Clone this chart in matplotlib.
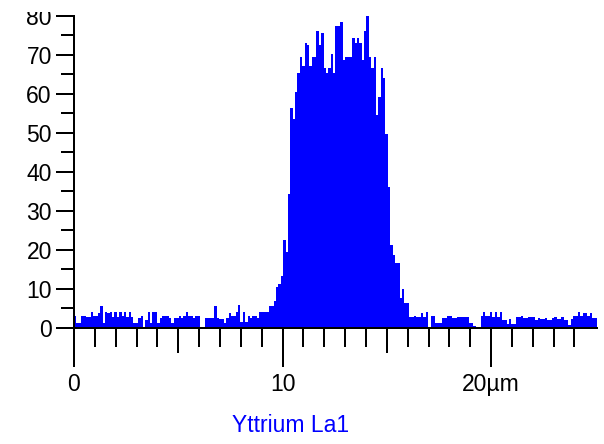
import numpy as np
import matplotlib.pyplot as plt
from matplotlib.ticker import MultipleLocator, FixedLocator
from matplotlib.transforms import Bbox, TransformedBbox

plt.rcParams['font.family'] = ['Liberation Sans', 'DejaVu Sans']

# line scan, one value per point, spacing in um
step = 0.114
counts = [
    3.0, 1.2, 1.2, 3.0, 3.0, 2.6, 2.6, 4.1, 3.0, 3.0,
    3.6, 5.4, 1.2, 4.1, 3.6, 4.1, 2.8, 4.1, 2.8, 4.1,
    3.0, 4.1, 2.8, 4.1, 2.8, 1.2, 1.2, 2.4, 3.0, 0.0,
    1.9, 4.1, 1.2, 4.1, 4.1, 1.2, 2.4, 3.0, 3.0, 3.0,
    2.4, 1.2, 2.4, 2.4, 3.0, 2.4, 3.0, 4.1, 3.0, 3.0,
    2.4, 3.0, 3.0, 0.0, 0.0, 2.4, 2.4, 2.4, 2.4, 5.4,
    2.4, 2.1, 2.1, 1.2, 2.4, 3.6, 3.0, 3.0, 4.1, 5.8,
    1.5, 4.1, 1.5, 3.0, 2.4, 3.0, 3.0, 2.4, 4.1, 4.1,
    4.1,
    4.0, 5.4, 5.4, 6.9, 10.3, 11.3, 13.1, 22.4, 19.3, 34.4,
    56.3, 53.5, 60.4, 65.3, 69.4, 67.1, 73.0, 72.5, 67.1, 69.4,
    69.4, 76.1, 72.5, 75.6, 66.6, 65.3, 66.6, 70.2, 65.3, 77.4,
    77.4, 78.4, 68.6,
    69.4, 69.4, 69.4, 74.3, 73.0, 74.3, 73.0, 68.6, 76.1, 80.2,
    69.4, 66.6, 69.4, 54.5, 59.1, 66.6, 64.0, 49.6, 36.0, 21.1,
    18.5, 16.5, 16.5, 7.7, 10.0, 6.2, 6.2, 2.6,
    2.8, 3.0, 2.8, 2.8, 3.6, 2.8, 4.1, 0.0, 3.0, 3.0,
    1.2, 1.2, 1.2, 2.4, 2.4, 3.0, 3.0, 2.4, 2.4, 2.6,
    2.6, 2.6, 2.6, 2.6, 1.2, 1.2, 0.4, 0.0, 0.0, 3.0,
    4.1, 3.0, 3.0, 4.1, 2.6, 4.1, 2.6, 4.1, 1.9, 1.9,
    1.0, 2.1, 1.0, 1.0, 2.6, 2.6, 3.0, 2.4, 2.4, 2.6,
    2.6, 2.6, 1.8, 2.4, 2.1, 2.1, 2.4, 1.8, 1.8, 2.4,
    2.6, 2.1, 2.1, 2.6, 1.8, 1.8, 0.6, 2.1, 3.0, 3.0,
    4.1, 3.0, 3.6, 3.6, 3.0, 3.6, 2.4, 2.4,
]
edges = np.arange(len(counts) + 1) * step
heights = counts + [counts[-1]]

x_major = [0, 10, 20]
x_labels = ['0', '10', '20µm']
x_mid = [5, 15]
y_major = list(range(0, 81, 10))

fig = plt.figure(figsize=(6.04, 4.44), dpi=100)
ax = fig.add_axes([74 / 604, 116.5 / 444, 523 / 604, 311.5 / 444])

ax.fill_between(edges, 0, heights, step='post', color='#0000ff',
                linewidth=0, antialiased=False, zorder=1)

ax.set_xlim(0, edges[-1])
ax.set_ylim(0, 80)

for s in ['top', 'right']:
    ax.spines[s].set_visible(False)
for s in ['left', 'bottom']:
    ax.spines[s].set_linewidth(1.44)
    ax.spines[s].set_color('black')
    ax.spines[s].set_zorder(3)

# y axis
ax.set_yticks(y_major)
ax.yaxis.set_minor_locator(MultipleLocator(5))
ax.tick_params(axis='y', which='major', direction='out', length=13,
               width=1.44, pad=3, labelsize=16.5)
ax.tick_params(axis='y', which='minor', direction='out', length=9.5,
               width=1.44)

# x axis
ax.set_xticks(x_major, x_labels)
ax.xaxis.set_minor_locator(FixedLocator(range(1, 25)))
ax.tick_params(axis='x', which='major', direction='out', length=28,
               width=1.44, pad=5, labelsize=16.5)
ax.tick_params(axis='x', which='minor', direction='out', length=13.5,
               width=1.44)

# medium ticks at 5 and 15
sec = ax.secondary_xaxis('bottom')
sec.set_xticks(x_mid)
sec.tick_params(axis='x', which='major', direction='out', length=18,
                width=1.44, labelbottom=False)
sec.xaxis.set_minor_locator(FixedLocator([]))
sec.spines['bottom'].set_visible(False)

# top label is cut off in the original
clip_bb = TransformedBbox(Bbox.from_extents(0, 0, 1, (444 - 12) / 444),
                          fig.transFigure)
top_label = ax.get_yticklabels()[-1]
top_label.set_clip_box(clip_bb)
top_label.set_clip_on(True)

fig.text(291 / 604, 1 - 425 / 444, 'Yttrium La1', color='#0000ff',
         ha='center', va='center', fontsize=16.5)

fig.savefig('out.png', dpi=100)
